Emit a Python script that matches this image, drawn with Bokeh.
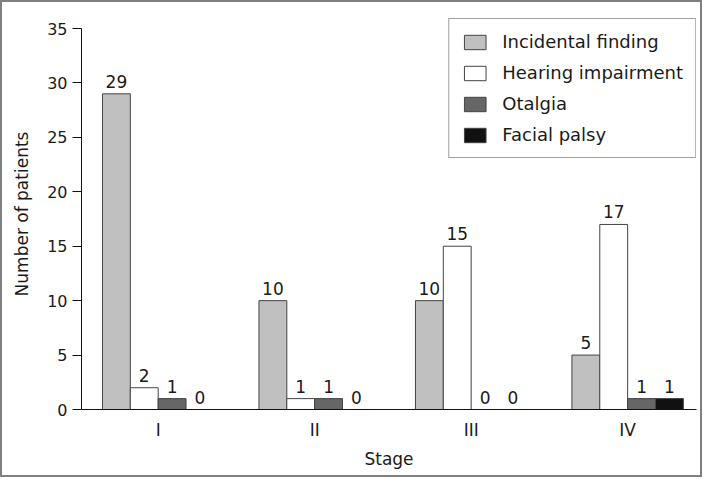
from bokeh.plotting import figure
from bokeh.models import Range1d, FixedTicker, ColumnDataSource, Legend, LegendItem
from bokeh.embed import file_html
from bokeh.resources import INLINE

stages = ["I", "II", "III", "IV"]
incidental = [29, 10, 10, 5]
hearing = [2, 1, 15, 17]
otalgia = [1, 1, 0, 1]
facial = [0, 0, 0, 1]

series_names = ["Incidental finding", "Hearing impairment", "Otalgia", "Facial palsy"]
series_vals = [incidental, hearing, otalgia, facial]
series_colors = ["#c0c0c0", "#ffffff", "#666666", "#111111"]

FONT = "DejaVu Sans"
bar_w = 0.178

p = figure(width=702, height=477, output_backend="svg", toolbar_location=None,
           x_range=Range1d(-0.49, 3.44), y_range=Range1d(0, 35.92),
           min_border_left=79, min_border_right=8, min_border_top=16, min_border_bottom=70,
           styles={"border": "2px solid #808080", "box-sizing": "border-box"})
p.xgrid.visible = False
p.ygrid.visible = False
p.outline_line_color = None

items = []
xs_idx = list(range(len(stages)))
for k, (name, vals, col) in enumerate(zip(series_names, series_vals, series_colors)):
    off = (k - 1.5) * bar_w
    xs = [i + off for i in xs_idx]
    src = ColumnDataSource(dict(x=xs, top=vals, lab=[str(v) for v in vals]))
    r = p.vbar(x="x", top="top", width=bar_w, source=src, fill_color=col,
               line_color="#444444", line_width=1)
    items.append(LegendItem(label=name, renderers=[r]))
    p.text(x="x", y="top", text="lab", source=src, text_align="center",
           text_baseline="bottom", y_offset=-6, text_font_size="17px",
           text_font={"value": FONT}, text_color="#1a1a1a")

legend = Legend(items=items, location="top_right", margin=0, padding=12, spacing=10,
                glyph_width=27, glyph_height=18, label_height=21, label_standoff=14,
                label_text_font=FONT, label_text_font_size="18px", label_text_color="#1a1a1a",
                border_line_color="#444444", border_line_width=1, background_fill_color="white",
                background_fill_alpha=1.0)
p.add_layout(legend, "center")

p.xaxis.ticker = FixedTicker(ticks=xs_idx)
p.xaxis.major_label_overrides = {i: s for i, s in enumerate(stages)}
p.xaxis.bounds = (-0.49, 3.44)
p.xaxis.major_tick_out = 0
p.xaxis.major_tick_in = 0
p.xaxis.minor_tick_line_color = None
p.xaxis.axis_label = "Stage"
p.xaxis.major_label_standoff = 10
p.xaxis.axis_label_standoff = 6

p.yaxis.ticker = FixedTicker(ticks=[0, 5, 10, 15, 20, 25, 30, 35])
p.yaxis.bounds = (0, 35)
p.yaxis.major_tick_out = 9
p.yaxis.major_tick_in = 0
p.yaxis.minor_tick_line_color = None
p.yaxis.axis_label = "Number of patients"
p.yaxis.major_label_standoff = 5
p.yaxis.axis_label_standoff = 12

for ax in (p.xaxis, p.yaxis):
    ax.axis_line_color = "#111111"
    ax.major_tick_line_color = "#111111"
    ax.major_label_text_font = FONT
    ax.major_label_text_font_size = "17px"
    ax.major_label_text_color = "#1a1a1a"
    ax.axis_label_text_font = FONT
    ax.axis_label_text_font_size = "17px"
    ax.axis_label_text_font_style = "normal"
    ax.axis_label_text_color = "#1a1a1a"
p.yaxis.major_label_text_font_size = "16px"

open("out.html", "w").write(file_html(p, INLINE))
